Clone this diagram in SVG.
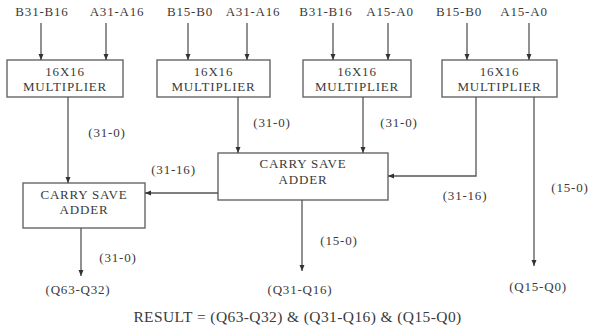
<svg xmlns="http://www.w3.org/2000/svg" width="589" height="329" viewBox="0 0 589 329" font-family="'Liberation Serif', 'DejaVu Serif', serif">
  <defs>
    <marker id="arrow" viewBox="0 0 6 6" refX="6" refY="3" markerWidth="6" markerHeight="6" markerUnits="userSpaceOnUse" orient="auto">
      <path d="M0,0.5 L6,3 L0,5.5 Z" fill="#333"/>
    </marker>
  </defs>
  <style>
    text { font-family: 'Liberation Serif', 'DejaVu Serif', serif; font-size: 13px; letter-spacing: 0.8px; fill: #3a3a3a; text-anchor: middle; }
    .box { fill: #fff; stroke: #666; stroke-width: 1.4; }
    .wire { fill: none; stroke: #555; stroke-width: 1.3; marker-end: url(#arrow); }
    .result { font-size: 15.5px; letter-spacing: 0.4px; }
  </style>
  <rect width="589" height="329" fill="#fff"/>

  <!-- operand labels -->
  <g id="inputs">
    <text x="42" y="16">B31-B16</text>
    <text x="117" y="16">A31-A16</text>
    <text x="190" y="16">B15-B0</text>
    <text x="253" y="16">A31-A16</text>
    <text x="326" y="16">B31-B16</text>
    <text x="390" y="16">A15-A0</text>
    <text x="459" y="16">B15-B0</text>
    <text x="524" y="16">A15-A0</text>
  </g>

  <!-- multipliers -->
  <g id="mult1">
    <rect class="box" x="7" y="60" width="116" height="37"/>
    <text x="65" y="76">16X16</text>
    <text x="65" y="91">MULTIPLIER</text>
  </g>
  <g id="mult2">
    <rect class="box" x="157" y="60" width="113" height="37"/>
    <text x="213.5" y="76">16X16</text>
    <text x="213.5" y="91">MULTIPLIER</text>
  </g>
  <g id="mult3">
    <rect class="box" x="303" y="60" width="108" height="37"/>
    <text x="357" y="76">16X16</text>
    <text x="357" y="91">MULTIPLIER</text>
  </g>
  <g id="mult4">
    <rect class="box" x="442" y="60" width="115" height="37"/>
    <text x="499.5" y="76">16X16</text>
    <text x="499.5" y="91">MULTIPLIER</text>
  </g>

  <!-- carry save adders -->
  <g id="csa-center">
    <rect class="box" x="218" y="153" width="170" height="47"/>
    <text x="303" y="168">CARRY SAVE</text>
    <text x="303" y="184">ADDER</text>
  </g>
  <g id="csa-left">
    <rect class="box" x="23" y="183" width="122" height="45"/>
    <text x="84" y="199">CARRY SAVE</text>
    <text x="84" y="214">ADDER</text>
  </g>

  <!-- connectors -->
  <g id="connectors">
    <path class="wire" d="M41,23 V60"/>
    <path class="wire" d="M106,23 V60"/>
    <path class="wire" d="M188,23 V60"/>
    <path class="wire" d="M247,23 V60"/>
    <path class="wire" d="M333,23 V60"/>
    <path class="wire" d="M388,23 V60"/>
    <path class="wire" d="M467,23 V60"/>
    <path class="wire" d="M529,23 V60"/>

    <path class="wire" d="M68,97 V183"/>
    <path class="wire" d="M238,97 V153"/>
    <path class="wire" d="M363,97 V153"/>
    <path class="wire" d="M476,97 V176 H388"/>
    <path class="wire" d="M534,97 V266"/>
    <path class="wire" d="M218,193 H145"/>
    <path class="wire" d="M302,200 V271"/>
    <path class="wire" d="M81,228 V276"/>
  </g>

  <!-- bit-range labels -->
  <g id="labels">
    <text x="107" y="137">(31-0)</text>
    <text x="272" y="127">(31-0)</text>
    <text x="399" y="127">(31-0)</text>
    <text x="465" y="200">(31-16)</text>
    <text x="570" y="192">(15-0)</text>
    <text x="173.5" y="174">(31-16)</text>
    <text x="339" y="245">(15-0)</text>
    <text x="118" y="262">(31-0)</text>
  </g>

  <!-- outputs -->
  <g id="outputs">
    <text x="78" y="294">(Q63-Q32)</text>
    <text x="300" y="294">(Q31-Q16)</text>
    <text x="538" y="291">(Q15-Q0)</text>
    <text class="result" x="297.5" y="322">RESULT = (Q63-Q32) &amp; (Q31-Q16) &amp; (Q15-Q0)</text>
  </g>
</svg>
